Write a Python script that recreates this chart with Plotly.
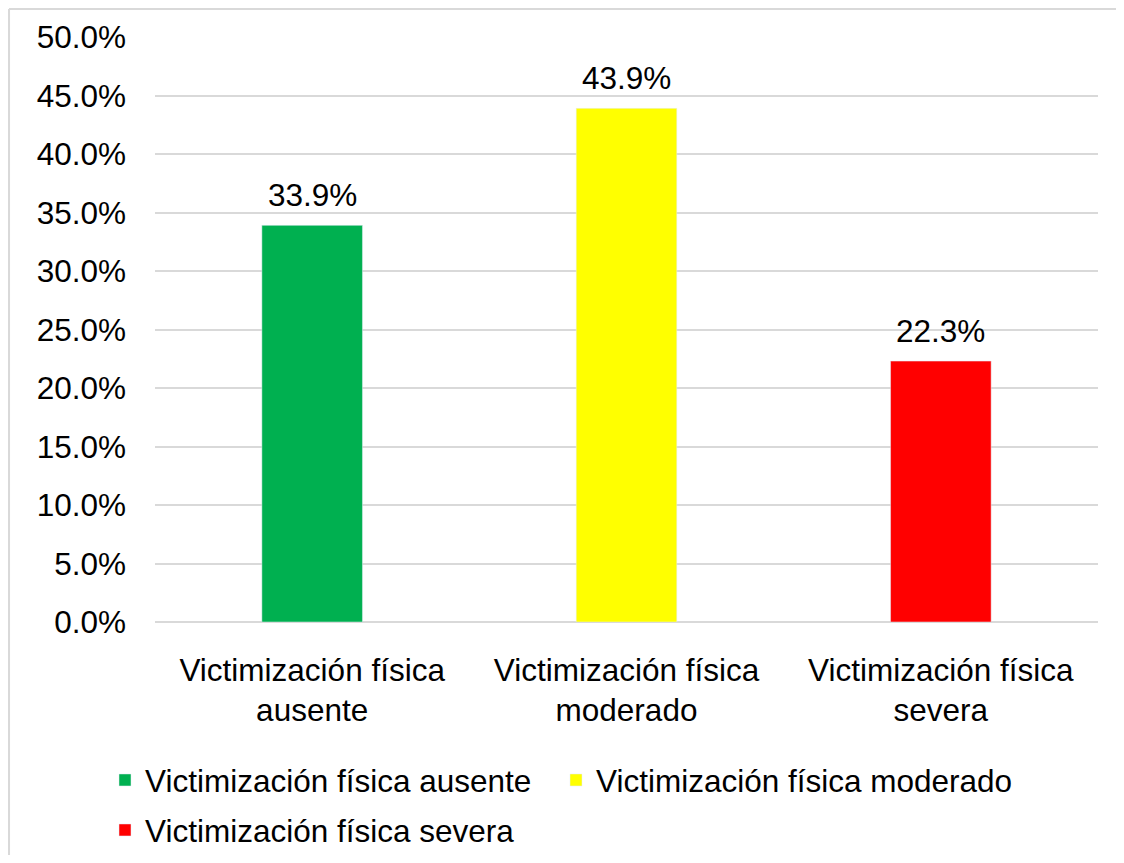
import plotly.graph_objects as go

categories = ["Victimización física<br>ausente", "Victimización física<br>moderado", "Victimización física<br>severa"]
series_names = ["Victimización física ausente", "Victimización física moderado", "Victimización física severa"]
values = [0.339, 0.439, 0.223]
colors = ["#00B050", "#FFFF00", "#FF0000"]
legend_ids = ["legend", "legend3", "legend2"]

FONT = "Liberation Sans, Arial, sans-serif"
FS = 31.5
W, H = 1108, 847

fig = go.Figure()
for cat, name, val, col, lg in zip(categories, series_names, values, colors, legend_ids):
    fig.add_trace(go.Bar(
        x=[cat], y=[val], name=name, marker_color=col, width=0.32,
        legend=lg, cliponaxis=False,
    ))
    fig.add_annotation(x=cat, y=val, text=f"{val:.1%}", showarrow=False,
                       xref="x", yref="y", yanchor="bottom", yshift=10,
                       font=dict(size=FS, color="black", family=FONT))

leg_common = dict(orientation="h", xanchor="left", yanchor="middle",
                  xref="container", yref="container",
                  font=dict(size=FS, color="black", family=FONT),
                  itemwidth=30, bgcolor="rgba(0,0,0,0)")

fig.update_layout(
    width=W, height=H,
    barmode="overlay",
    paper_bgcolor="white", plot_bgcolor="white",
    margin=dict(l=147, r=18, t=29, b=H - 29 - 585, autoexpand=False),
    font=dict(family=FONT, size=FS, color="black"),
    xaxis=dict(categoryorder="array", categoryarray=categories,
               tickfont=dict(size=FS, color="black"), showgrid=False,
               showline=False, ticks="", ticklabelstandoff=26),
    yaxis=dict(range=[0, 0.5], dtick=0.05, tickformat=".1%",
               gridcolor="#D9D9D9", gridwidth=1.5, zeroline=True,
               zerolinecolor="#D9D9D9", zerolinewidth=1.5,
               tickfont=dict(size=FS, color="black"), ticks="",
               ticklabelstandoff=28, automargin=False),
    showlegend=True,
    legend=dict(x=97 / W, y=1 - 772 / H, **leg_common),
    legend3=dict(x=548 / W, y=1 - 772 / H, **leg_common),
    legend2=dict(x=97 / W, y=1 - 822 / H, **leg_common),
    shapes=[
        dict(type="line", xref="paper", yref="paper",
             x0=-0.1548, x1=1.1, y0=1.0479, y1=1.0479,
             line=dict(color="#D9D9D9", width=2), layer="below"),
        dict(type="line", xref="paper", yref="paper",
             x0=-0.1548, x1=-0.1548, y0=-0.5, y1=1.0479,
             line=dict(color="#D9D9D9", width=2), layer="below"),
    ],
)

fig.write_html("out.html")
